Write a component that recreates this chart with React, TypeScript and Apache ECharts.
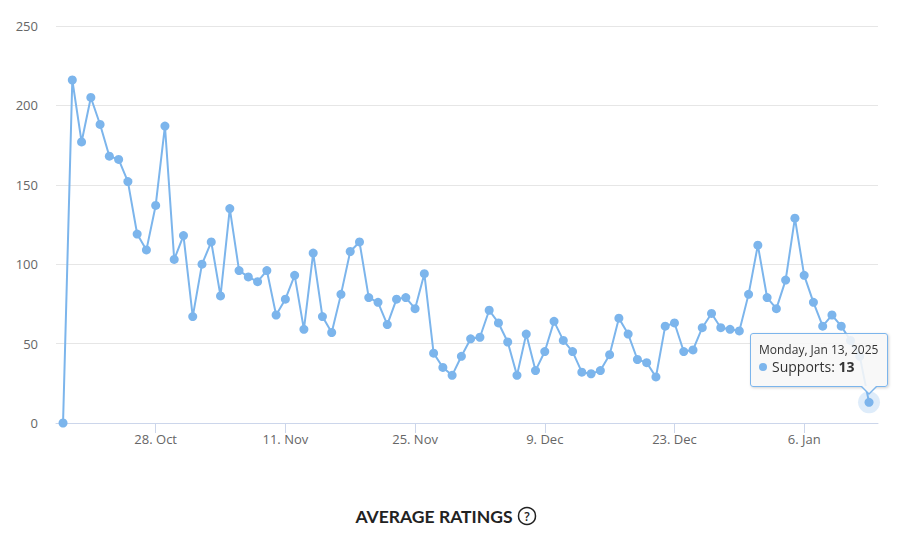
import React, { useEffect, useRef } from "react";
import * as echarts from "echarts";

// Daily dates (categories)
const dates: string[] = [
  "2024-10-18", "2024-10-19", "2024-10-20", "2024-10-21", "2024-10-22", "2024-10-23", "2024-10-24",
  "2024-10-25", "2024-10-26", "2024-10-27", "2024-10-28", "2024-10-29", "2024-10-30", "2024-10-31",
  "2024-11-01", "2024-11-02", "2024-11-03", "2024-11-04", "2024-11-05", "2024-11-06", "2024-11-07",
  "2024-11-08", "2024-11-09", "2024-11-10", "2024-11-11", "2024-11-12", "2024-11-13", "2024-11-14",
  "2024-11-15", "2024-11-16", "2024-11-17", "2024-11-18", "2024-11-19", "2024-11-20", "2024-11-21",
  "2024-11-22", "2024-11-23", "2024-11-24", "2024-11-25", "2024-11-26", "2024-11-27", "2024-11-28",
  "2024-11-29", "2024-11-30", "2024-12-01", "2024-12-02", "2024-12-03", "2024-12-04", "2024-12-05",
  "2024-12-06", "2024-12-07", "2024-12-08", "2024-12-09", "2024-12-10", "2024-12-11", "2024-12-12",
  "2024-12-13", "2024-12-14", "2024-12-15", "2024-12-16", "2024-12-17", "2024-12-18", "2024-12-19",
  "2024-12-20", "2024-12-21", "2024-12-22", "2024-12-23", "2024-12-24", "2024-12-25", "2024-12-26",
  "2024-12-27", "2024-12-28", "2024-12-29", "2024-12-30", "2024-12-31", "2025-01-01", "2025-01-02",
  "2025-01-03", "2025-01-04", "2025-01-05", "2025-01-06", "2025-01-07", "2025-01-08", "2025-01-09",
  "2025-01-10", "2025-01-11", "2025-01-12", "2025-01-13",
];

// Supports per day
const supports: number[] = [
  0, 216, 177, 205, 188, 168, 166, 152, 119, 109,
  137, 187, 103, 118, 67, 100, 114, 80, 135, 96,
  92, 89, 96, 68, 78, 93, 59, 107, 67, 57,
  81, 108, 114, 79, 76, 62, 78, 79, 72, 94,
  44, 35, 30, 42, 53, 54, 71, 63, 51, 30,
  56, 33, 45, 64, 52, 45, 32, 31, 33, 43,
  66, 56, 40, 38, 29, 61, 63, 45, 46, 60,
  69, 60, 59, 58, 81, 112, 79, 72, 90, 129,
  93, 76, 61, 68, 61, 52, 42, 13,
];

const tickDates: string[] = ["2024-10-28", "2024-11-11", "2024-11-25", "2024-12-09", "2024-12-23", "2025-01-06"];
const tickLabels: string[] = ["28. Oct", "11. Nov", "25. Nov", "9. Dec", "23. Dec", "6. Jan"];

const yTicks: number[] = [0, 50, 100, 150, 200, 250];

const SERIES_NAME = "Supports";
const TITLE = "AVERAGE RATINGS";
const COLOR = "#7cb5ec";
const DAY = 86400000;

const WEEKDAYS = ["Sunday", "Monday", "Tuesday", "Wednesday", "Thursday", "Friday", "Saturday"];
const MONTHS = ["Jan", "Feb", "Mar", "Apr", "May", "Jun", "Jul", "Aug", "Sep", "Oct", "Nov", "Dec"];

function toTs(s: string): number {
  const [y, m, d] = s.split("-").map(Number);
  return Date.UTC(y, m - 1, d);
}

export default function App() {
  const ref = useRef<HTMLDivElement>(null);

  useEffect(() => {
    if (!ref.current) return;
    const chart = echarts.init(ref.current, undefined, { renderer: "svg" });
    const tsList = dates.map(toTs);
    const data = tsList.map((t, i) => [t, supports[i]]);
    const tickTs = tickDates.map(toTs);
    const lastIdx = supports.length - 1;
    const font = "'Open Sans', sans-serif";

    const option: any = {
      animation: false,
      grid: { left: 56, right: 31, top: 26, bottom: 120, containLabel: false },
      xAxis: {
        type: "value",
        scale: true,
        min: tsList[0] - 0.76 * DAY,
        max: tsList[lastIdx] + 0.97 * DAY,
        axisLine: { show: true, onZero: false, lineStyle: { color: "#ccd6eb", width: 1 } },
        axisTick: { show: true, customValues: tickTs, length: 10, lineStyle: { color: "#ccd6eb" } },
        axisLabel: {
          show: true,
          customValues: tickTs,
          margin: 9,
          color: "#666666",
          fontSize: 13,
          fontFamily: font,
          formatter: (v: number) => {
            const k = tickTs.indexOf(v);
            return k >= 0 ? tickLabels[k] : "";
          },
        },
        splitLine: { show: false },
      },
      yAxis: {
        type: "value",
        min: yTicks[0],
        max: yTicks[yTicks.length - 1],
        interval: yTicks[1] - yTicks[0],
        axisLine: { show: false },
        axisTick: { show: false },
        axisLabel: { color: "#666666", fontSize: 13, fontFamily: font, margin: 18 },
        splitLine: { lineStyle: { color: "#e6e6e6", width: 1 } },
      },
      tooltip: {
        trigger: "item",
        triggerOn: "none",
        alwaysShowContent: true,
        transitionDuration: 0,
        backgroundColor: "rgba(247,247,247,0.88)",
        borderColor: COLOR,
        borderWidth: 1,
        borderRadius: 3,
        padding: [8, 9, 10, 8],
        extraCssText: "box-shadow: 1px 1px 3px rgba(0,0,0,0.18);",
        textStyle: { color: "#333333", fontFamily: font },
        position: (point: number[], _p: any, _d: any, _r: any, size: any) => {
          const h = size.contentSize[1];
          return [point[0] - 119, point[1] - 15 - h];
        },
        formatter: (params: any) => {
          const t = new Date(params.value[0]);
          const header = `${WEEKDAYS[t.getUTCDay()]}, ${MONTHS[t.getUTCMonth()]} ${t.getUTCDate()}, ${t.getUTCFullYear()}`;
          return (
            `<div style="font-size:12px;line-height:15px;color:#333;">${header}</div>` +
            `<div style="font-size:14px;line-height:19px;color:#333;">` +
            `<span style="display:inline-block;width:8px;height:8px;border-radius:50%;background:${COLOR};margin-right:5px;vertical-align:1px;"></span>` +
            `${params.seriesName}: <b>${params.value[1]}</b></div>` +
            `<div style="position:absolute;left:110px;bottom:-9px;width:0;height:0;border-left:8px solid transparent;border-right:8px solid transparent;border-top:8px solid ${COLOR};"></div>` +
            `<div style="position:absolute;left:111px;bottom:-7px;width:0;height:0;border-left:7px solid transparent;border-right:7px solid transparent;border-top:7px solid #f8f8f8;"></div>`
          );
        },
      },
      graphic: [
        {
          type: "text",
          x: 434,
          y: 516,
          style: {
            text: TITLE,
            font: "700 17.5px Lato, sans-serif",
            fill: "#222222",
            align: "center",
            verticalAlign: "middle",
          },
        },
        {
          type: "circle",
          shape: { cx: 527, cy: 516, r: 8.5 },
          style: { fill: "none", stroke: "#222222", lineWidth: 1.5 },
        },
        {
          type: "text",
          x: 527,
          y: 516.5,
          style: {
            text: "?",
            font: "600 12px 'Open Sans', sans-serif",
            fill: "#222222",
            align: "center",
            verticalAlign: "middle",
          },
        },
      ],
      series: [
        {
          name: SERIES_NAME,
          type: "line",
          data,
          symbol: "circle",
          symbolSize: 9,
          showSymbol: true,
          lineStyle: { color: COLOR, width: 2 },
          itemStyle: { color: COLOR },
          emphasis: { disabled: true },
          markPoint: {
            symbol: "circle",
            symbolSize: 22,
            silent: true,
            label: { show: false },
            itemStyle: { color: "rgba(124,181,236,0.25)" },
            data: [{ coord: [tsList[lastIdx], supports[lastIdx]] }],
          },
          z: 3,
        },
      ],
    };

    chart.setOption(option);
    chart.dispatchAction({ type: "showTip", seriesIndex: 0, dataIndex: lastIdx });

    return () => {
      chart.dispose();
    };
  }, []);

  return (
    <div
      ref={ref}
      style={{ position: "absolute", left: 0, top: 0, width: 909, height: 543 }}
    />
  );
}
